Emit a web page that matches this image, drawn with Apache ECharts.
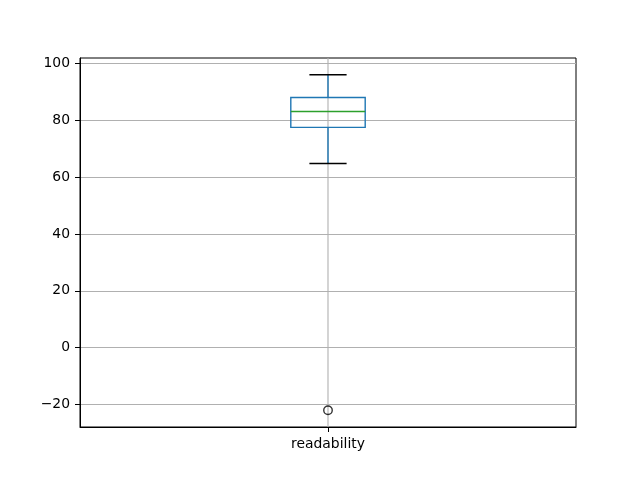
<!DOCTYPE html>
<html>
<head>
<meta charset="utf-8">
<script src="https://cdn.jsdelivr.net/npm/echarts@6/dist/echarts.min.js"></script>
<style>html,body{margin:0;padding:0;background:#fff;}#c{width:640px;height:480px;}</style>
</head>
<body>
<div id="c"></div>
<script>
const categories = ['readability'];
const whiskerLow = [64.8];
const q1 = [77.5];
const median = [83.1];
const q3 = [88.0];
const whiskerHigh = [96.0];
const outliers = [[0, -22.0]];
const yTicks = [-20, 0, 20, 40, 60, 80, 100];
const yMin = -27.9, yMax = 101.9;

const boxData = categories.map((c, i) => [i, whiskerLow[i], q1[i], median[i], q3[i], whiskerHigh[i]]);
const FONT = 'DejaVu Sans';
const LW = 1.4;

const chart = echarts.init(document.getElementById('c'));
chart.setOption({
  animation: false,
  backgroundColor: '#fff',
  grid: { left: 80, top: 58, width: 496, height: 369, show: true, borderColor: '#000', borderWidth: 1, backgroundColor: 'transparent' },
  xAxis: {
    type: 'category',
    data: categories,
    boundaryGap: true,
    axisLine: { show: true, onZero: false, lineStyle: { color: '#000', width: 1 } },
    axisTick: { show: true, alignWithLabel: true, length: 5, lineStyle: { color: '#000', width: 1 } },
    axisLabel: { color: '#000', fontFamily: FONT, fontSize: 13.9, margin: 10 },
    splitLine: { show: false }
  },
  yAxis: {
    type: 'value',
    min: yMin, max: yMax,
    axisLine: { show: true, onZero: false, lineStyle: { color: '#000', width: 1 } },
    axisTick: { show: true, length: 5, customValues: yTicks, lineStyle: { color: '#000', width: 1 } },
    axisLabel: {
      color: '#000', fontFamily: FONT, fontSize: 13.9, margin: 10, customValues: yTicks,
      padding: [3, 0, 0, 0],
      formatter: function (v) { return String(v).replace('-', '\u2212'); }
    },
    splitLine: { show: true, lineStyle: { color: '#b0b0b0', width: 1.1 } }
  },
  series: [
    {
      type: 'custom',
      data: categories.map((c, i) => [i]),
      silent: true,
      z: 1,
      renderItem: function (params, api) {
        const x = api.value(0);
        const top = api.coord([x, yMax]);
        const bot = api.coord([x, yMin]);
        return { type: 'line', shape: { x1: top[0], y1: top[1], x2: bot[0], y2: bot[1] }, style: { stroke: '#b0b0b0', lineWidth: 1.1 } };
      }
    },
    {
      type: 'custom',
      data: boxData,
      encode: { x: 0, y: [1, 2, 3, 4, 5] },
      z: 3,
      renderItem: function (params, api) {
        const x = api.value(0);
        const pLow = api.coord([x, api.value(1)]);
        const pQ1 = api.coord([x, api.value(2)]);
        const pMed = api.coord([x, api.value(3)]);
        const pQ3 = api.coord([x, api.value(4)]);
        const pHigh = api.coord([x, api.value(5)]);
        const band = api.size([1, 0])[0];
        const bw = band * 0.15;
        const cw = bw / 2;
        const cx = pMed[0];
        const blue = '#1f77b4';
        return {
          type: 'group',
          children: [
            { type: 'line', shape: { x1: cx, y1: pQ1[1], x2: cx, y2: pLow[1] }, style: { stroke: blue, lineWidth: LW } },
            { type: 'line', shape: { x1: cx, y1: pQ3[1], x2: cx, y2: pHigh[1] }, style: { stroke: blue, lineWidth: LW } },
            { type: 'line', shape: { x1: cx - cw / 2, y1: pLow[1], x2: cx + cw / 2, y2: pLow[1] }, style: { stroke: '#000', lineWidth: LW } },
            { type: 'line', shape: { x1: cx - cw / 2, y1: pHigh[1], x2: cx + cw / 2, y2: pHigh[1] }, style: { stroke: '#000', lineWidth: LW } },
            { type: 'rect', shape: { x: cx - bw / 2, y: pQ3[1], width: bw, height: pQ1[1] - pQ3[1] }, style: { fill: 'none', stroke: blue, lineWidth: LW } },
            { type: 'line', shape: { x1: cx - bw / 2, y1: pMed[1], x2: cx + bw / 2, y2: pMed[1] }, style: { stroke: '#2ca02c', lineWidth: LW } }
          ]
        };
      }
    },
    {
      type: 'scatter',
      data: outliers,
      symbol: 'circle',
      symbolSize: 8.5,
      z: 4,
      itemStyle: { color: 'rgba(0,0,0,0)', borderColor: '#000', borderWidth: LW }
    }
  ]
});
</script>
</body>
</html>
